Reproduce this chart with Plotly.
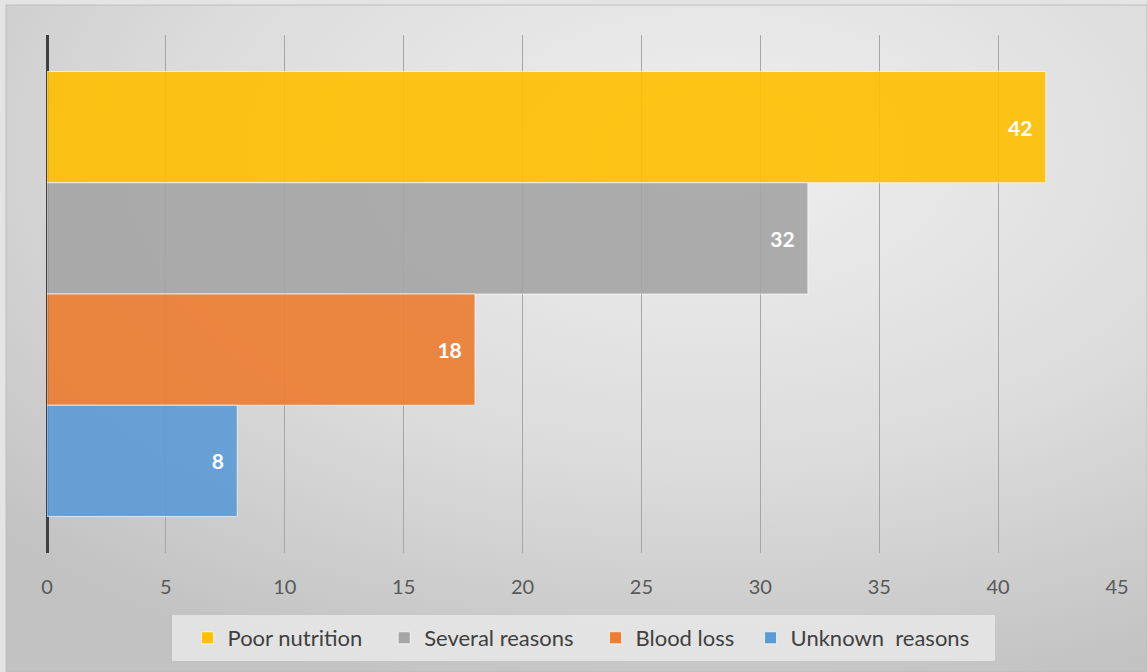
import base64
import plotly.graph_objects as go

# Causes of anaemia, share of cases
causes = ["Poor nutrition", "Several reasons", "Blood loss", "Unknown  reasons"]
values = [42, 32, 18, 8]
colors = ["#FFC000", "#A5A5A5", "#ED7D31", "#5B9BD5"]
x_ticks = [0, 5, 10, 15, 20, 25, 30, 35, 40, 45]

W, H = 1147, 672
M_L, M_R, M_T, M_B = 47, 30, 35, 119
PW, PH = W - M_L - M_R, H - M_T - M_B

NBSP = "\u00a0"
legend_pad = [3, 3, 2, 0]  # extra spacing after each legend entry

# soft radial backdrop
bg_svg = f"""<svg xmlns='http://www.w3.org/2000/svg' width='{W}' height='{H}' viewBox='0 0 {W} {H}' preserveAspectRatio='none'>
<defs><radialGradient id='g' cx='0.62' cy='0.22' r='0.85'>
<stop offset='0' stop-color='#efefef'/><stop offset='0.55' stop-color='#dcdcdc'/><stop offset='1' stop-color='#c2c2c2'/>
</radialGradient></defs>
<rect x='0' y='0' width='{W}' height='{H}' fill='#e4e4e4'/>
<rect x='6' y='5' width='{W-6}' height='{H-5}' fill='url(#g)' stroke='#bdbdbd' stroke-width='1'/>
</svg>"""
bg_uri = "data:image/svg+xml;base64," + base64.b64encode(bg_svg.encode()).decode()

fig = go.Figure()
for name, v, c, pad in zip(causes, values, colors, legend_pad):
    fig.add_trace(go.Bar(
        name=name + NBSP * pad, y=[""], x=[v], orientation="h",
        marker=dict(color=c, opacity=0.9, line=dict(color="rgba(255,255,255,0.7)", width=1)),
        text=[str(v) + NBSP * 2], textposition="inside", insidetextanchor="end",
        textfont=dict(family="Lato", size=21, color="white", weight="bold"),
        cliponaxis=False,
    ))

# pixel -> paper helpers for the legend panel
def px_x(px):
    return (px - M_L) / PW

def px_y(py):
    return (H - M_B - py) / PH

fig.update_layout(
    width=W, height=H,
    margin=dict(l=M_L, r=M_R, t=M_T, b=M_B),
    paper_bgcolor="#d6d6d6", plot_bgcolor="rgba(0,0,0,0)",
    barmode="group", bargap=0.141, bargroupgap=0,
    font=dict(family="Lato", color="#595959"),
    images=[dict(source=bg_uri, xref="paper", yref="paper",
                 x=-M_L / PW, y=1 + M_T / PH, sizex=W / PW, sizey=H / PH,
                 xanchor="left", yanchor="top", sizing="stretch", layer="below")],
    shapes=[dict(type="rect", xref="paper", yref="paper",
                 x0=px_x(172), x1=px_x(995), y0=px_y(661), y1=px_y(615),
                 fillcolor="rgba(232,232,232,0.85)", line=dict(width=0), layer="below")],
    xaxis=dict(range=[0, 45], tickvals=x_ticks, ticktext=[str(t) for t in x_ticks],
               showgrid=True, gridcolor="#a6a6a6", gridwidth=1,
               zeroline=True, zerolinecolor="#3f3f3f", zerolinewidth=3,
               showline=False, ticks="", ticklabelstandoff=20,
               tickfont=dict(family="Lato", size=20, color="#595959")),
    yaxis=dict(autorange="reversed", showticklabels=False, showgrid=False,
               zeroline=False, showline=False, ticks=""),
    legend=dict(orientation="h", x=px_x(581), xanchor="center", y=px_y(638), yanchor="middle",
                bgcolor="rgba(0,0,0,0)", borderwidth=0,
                font=dict(family="Lato", size=22, color="#404040"),
                itemwidth=30, traceorder="normal"),
    showlegend=True,
)

fig.write_html("out.html")
